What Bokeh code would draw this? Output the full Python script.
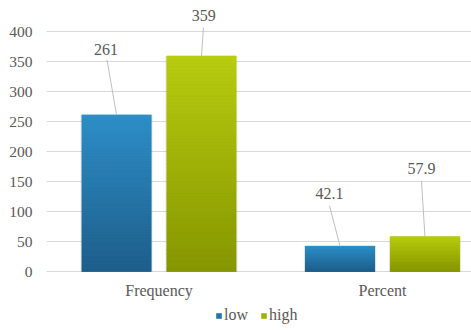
import numpy as np
from bokeh.plotting import figure
from bokeh.models import Range1d, Legend, LegendItem, ColumnDataSource, FixedTicker
from bokeh.core.properties import value
from bokeh.embed import file_html
from bokeh.resources import INLINE

# ---- data ----
categories = ["Frequency", "Percent"]
low = [261, 42.1]
high = [359, 57.9]
y_ticks = [0, 50, 100, 150, 200, 250, 300, 350, 400]
series_names = ["low", "high"]

# ---- style / layout constants ----
FONT = "'Liberation Serif'"
TXT = "#595959"
low_top, low_bot = np.array([46, 142, 200]), np.array([30, 94, 137])
high_top, high_bot = np.array([184, 204, 16]), np.array([133, 150, 0])
PX_X = 223.5   # px per x unit
PX_Y = 0.6     # px per y unit
ZERO_PX = 271  # y pixel of value 0
offset = 0.19
bar_w = 0.31
# label offsets in px: (dx_text, up_text, dx_line_start, up_line_start)
low_lab = [(-10.5, 65, -9.5, 55), (-10.5, 52.5, -10.5, 40.5)]
high_lab = [(2.3, 40.5, 2, 28.5), (-3.5, 68, -3.5, 56)]

p = figure(width=471, height=330, output_backend="svg", toolbar_location=None,
           x_range=Range1d(-(158.5 - 46) / PX_X, -(158.5 - 46) / PX_X + 425 / PX_X),
           y_range=Range1d(-(330 - ZERO_PX) / PX_Y, (ZERO_PX - 5) / PX_Y),
           min_border_left=46, min_border_right=0, min_border_top=5, min_border_bottom=0,
           x_axis_location=None)
p.outline_line_color = None
p.background_fill_color = "white"
p.border_fill_color = "white"

xs = np.arange(len(categories))


def hexc(c):
    return "#%02x%02x%02x" % tuple(int(round(v)) for v in c)


def draw_series(vals, off, ctop, cbot, labs):
    vals = np.array(vals, dtype=float)
    cx = xs + off
    base = p.vbar(x=list(cx), top=list(vals), width=bar_w, fill_color=hexc((ctop + cbot) / 2),
                  line_color=None)
    p.vbar(x=list(cx), top=list(vals), width=bar_w + 2.0 / PX_X, fill_color=None,
           line_color="#000000", line_alpha=0.08, line_width=1)
    N = 60
    qx, qb, qt, qc = [], [], [], []
    for i, v in enumerate(vals):
        for k in range(N):
            qx.append(float(cx[i])); qb.append(v * k / N); qt.append(v * (k + 1) / N)
            qc.append(hexc(cbot + (ctop - cbot) * ((k + 0.5) / N)))
    p.vbar(x=qx, bottom=qb, top=qt, width=bar_w, fill_color=qc, line_color=qc, line_width=0.6)
    x0 = [float(cx[i] + labs[i][2] / PX_X) for i in range(len(vals))]
    y0 = [float(vals[i] + labs[i][3] / PX_Y) for i in range(len(vals))]
    p.segment(x0=x0, y0=y0, x1=list(map(float, cx)), y1=list(map(float, vals)),
              line_color="#BFBFBF", line_width=1)
    src = ColumnDataSource(dict(
        x=[float(cx[i] + labs[i][0] / PX_X) for i in range(len(vals))],
        y=[float(vals[i] + labs[i][1] / PX_Y) for i in range(len(vals))],
        t=[("%g" % v) for v in vals]))
    p.text(x="x", y="y", text="t", source=src, text_align="center", text_baseline="middle",
           text_font=value(FONT), text_font_size="16px", text_color=TXT)
    return base


r_low = draw_series(low, -offset, low_top, low_bot, low_lab)
r_high = draw_series(high, offset, high_top, high_bot, high_lab)

# category labels (x axis)
cat_src = ColumnDataSource(dict(x=[float(v) for v in xs],
                                y=[-(290 - ZERO_PX) / PX_Y] * len(categories),
                                t=categories))
p.text(x="x", y="y", text="t", source=cat_src, text_align="center", text_baseline="middle",
       text_font=value(FONT), text_font_size="16px", text_color=TXT)

p.yaxis.ticker = FixedTicker(ticks=y_ticks)
p.yaxis.axis_line_color = None
p.yaxis.major_tick_line_color = None
p.yaxis.minor_tick_line_color = None
p.yaxis.major_label_text_font = FONT
p.yaxis.major_label_text_font_size = "15.5px"
p.yaxis.major_label_text_color = TXT
p.yaxis.major_label_standoff = 8

p.xgrid.grid_line_color = None
p.ygrid.ticker = FixedTicker(ticks=y_ticks)
p.ygrid.grid_line_color = "#D9D9D9"
p.ygrid.grid_line_width = 1

legend = Legend(items=[LegendItem(label=series_names[0], renderers=[r_low]),
                       LegendItem(label=series_names[1], renderers=[r_high])],
                orientation="horizontal", location=(169, 6),
                border_line_color=None, background_fill_alpha=0,
                label_text_font=FONT, label_text_font_size="16px", label_text_color=TXT,
                glyph_width=7, glyph_height=7, spacing=12, padding=0, margin=0,
                label_standoff=2)
p.add_layout(legend, "center")

open("out.html", "w").write(file_html(p, INLINE))
